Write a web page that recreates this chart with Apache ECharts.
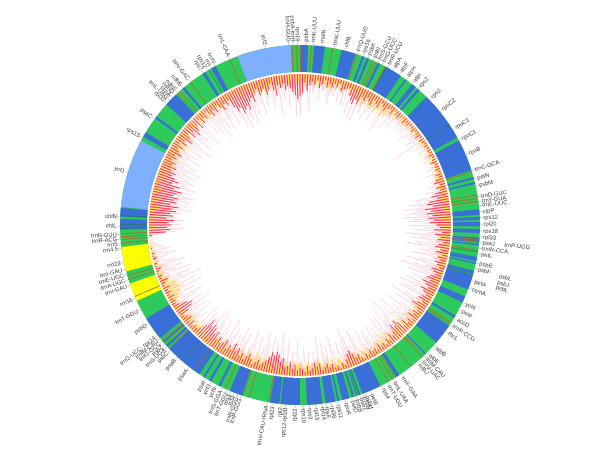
<!DOCTYPE html>
<html><head><meta charset="utf-8">
<script src="https://cdn.jsdelivr.net/npm/echarts@6/dist/echarts.min.js"></script>
<style>html,body{margin:0;background:#fff}#c{width:600px;height:450px}</style></head>
<body><div id="c"></div>
<script>
// gene blocks, degrees clockwise from the top
const codingGenes=[[0,2.6],[4.5,8],[13.4,18],[20.2,21],[21.8,22.6],[25.6,26.4],[28.5,34],[35.8,36.3],[38.5,40],[40.8,41.6],[44.6,60.9],[62,72.3],[74.5,75.2],[76.2,76.8],[85,86.8],[87.4,88.4],[89,90.4],[91.3,92.6],[94,95.6],[96,96.5],[100.2,101.6],[102,102.5],[104.8,105.8],[106.2,111],[113.4,115.5],[120.2,121],[124,130.8],[135.6,136],[146.5,147.6],[153.4,159.7],[160.4,160.8],[161.4,161.8],[162.4,162.8],[164,166.4],[167.4,168],[168.6,171.8],[172.8,177.8],[180,186.2],[186.6,189.6],[198.8,203],[206.2,207],[209.6,210.4],[212,212.6],[214,226.6],[227.4,228.2],[229.2,229.8],[231,238.7],[268.5,272],[272.6,275.5],[299.4,301],[306.4,307.2],[312,316.5],[319.2,320],[327.2,328.2],[330.4,332]];
const repeatGenes=[[275.8,298],[339.7,357]];
const rrnaGenes=[[245,251],[255,263]];
const trnaLines=[-2.6,-1,0.2,3.6,10.5,18.5,24,25,28.2,72.8,80.4,81.5,82.5,94.6,95.2,98,122.8,123.4,136.8,137.4,142,148,149,150.6,190,196.5,198.5,204.5,216,227,229,230.2,246.6,252.4,253.6,264.2,265.4,266.2,267.2,317,318,322.4,337];
const darkLines=[28.6,56,106,98.6,221,329.6,268.9,273,270.2,161,163];

// label positions (degrees) and names
const labelAngles=[-3.6,-2.2,-0.8,1.9,4.2,7,11,14.6,18.5,20.4,22.2,24,25.6,27.2,29,31,33.5,36,38.5,41,46,51,58,62,67,72.5,75.2,77.5,81,82.5,83.8,85.8,87.7,89.7,91.9,93.8,95.6,97.4,99.2,102.2,104,108,110.5,115.5,118,121,123.4,126,132,135,136.5,138,139.5,146,149,151,153,157,158.6,159.4,160.6,162,163.4,165.5,168,170,171.6,173,175,177,179,181.5,184.5,186,188.5,190.5,199,200.2,201.4,202.6,203.8,205.5,207.5,209.5,211.5,218,222.8,226,227.4,228.6,229.8,231,232.2,236.9,242,246,250.5,252.3,254,255.7,258,262.5,264,265.5,267,269.7,272.6,287,299,306,312.5,313.7,314.9,316.1,317.3,319.5,322.5,327.5,329,330.5,332,337,349];
const labelNames=["trnH-GUG","psbA-trnH","rps19","psbA","trnK-UUU","matK","trnK-UUU","chlB","trnQ-UUG","rps16","psbK","psbI","trnS-GCU","trnG-UCC","trnR-UCU","atpA","atpF","atpH","atpI","rps2","rps2","rpoC2","rpoC1","rpoC1","rpoB","trnC-GCA","petN","psbM","trnD-GUC","trnY-GUA","trnE-UUC","clpP","rps12","rpl20","rps18","rpl33","psaJ","trnW-CCA","petL","psbE","psbF","petA","cemA","ycf4","psaI","accD","trnR-CCG","rbcL","atpB","atpE","trnM-CAU","trnV-UAC","ndhJ","trnF-GAA","trnL-UAA","trnT-UGU","rps4","petB","psbH","psbN","psbT","psbB","petD","rpoA","rps11","rpl36","rps8","rpl14","rpl16","rps3","rps19","rpl22","rps12-rpl20","rpl2","rpl23","trnV-CAU-rRNA","trnP-GGG","trnR-GGG","ycf3","rps4","trnT-GGU","trnS-GGA","ycf9","ycf3","psaI","psaA","psaB","psbC","trnS-UGA","psbZ","trnG-GCC","trnfM-CAU","trnG-UCC, rps14","psbD","trnT-GGU","rrn16","trnI-GAU","trnA-UGC","trnE-UGC","trnI-GAU","rrn23","rrn4.5","rrn5","trnR-ACG","trnN-GUU","chlL","chlN","ycf1","rps15","psaC","rpl32","trnL-UAG","ccsA","ndhD","ndhE","ndhB","trnV-GAC","rps7","rps12","rrn","trnN","trnL-CAA","ycf2"];
const extraLabelAngles=[95.6,104.4,106.2,107.6];
const extraLabelNames=["trnP-UGG","psbL","psbJ","psbL"];

const pinkSpikes=[
34,18,12,22,30,16,9,14,20,11,7,18,24,13,15,8,19,10,22,14,12,26,17,28,11,30,16,21,13,25,
18,12,24,9,15,20,28,14,10,22,13,17,11,8,14,10,15,12,9,18,13,8,11,16,10,30,9,12,8,11,
7,10,9,12,8,6,9,11,7,14,10,8,12,9,16,11,18,13,28,20,34,26,38,30,36,28,40,32,36,24,
34,22,30,18,38,26,32,20,28,36,16,24,18,30,12,22,34,15,26,36,19,30,12,24,16,28,20,32,14,26,
30,12,22,34,16,28,10,20,32,14,26,18,36,22,30,16,38,24,20,34,14,28,18,30,12,22,16,26,10,18,
24,14,28,16,10,22,30,12,18,26,34,20,14,24,10,18,30,12,22,16,26,9,32,14,20,11,18,10,24,13,
16,28,12,20,10,30,14,22,36,18,26,12,30,16,24,34,20,14,28,10,22,32,16,12,26,18,30,14,22,10,
26,16,32,12,20,28,14,24,30,18,34,22,12,26,16,30,10,20,14,28,12,24,18,32,16,26,10,22,30,14,
24,12,34,18,28,14,36,20,26,10,30,16,22,12,26,18,8,14,20,10,16,12,6,4,3,5,8,22,28,18,
26,20,30,24,18,28,22,34,26,30,24,32,28,36,26,30,22,34,28,24,32,26,20,30,24,34,18,28,22,16,
30,18,24,12,28,16,22,34,20,14,30,18,26,12,22,32,16,10,24,14,28,20,34,18,26,12,30,22,16,28,
14,24,32,18,36,26,30,16,34,22,28,14,20,30,10,24,18,12,26,20,8,34,16,22,10,28,14,20,36,24];
const orangeSpikes=[
8,10,12,7,9,11,6,10,8,12,7,9,11,8,10,6,9,12,8,7,10,9,13,11,14,10,15,12,9,11,
13,9,12,10,8,14,11,7,10,9,6,8,7,9,5,8,6,7,4,6,5,7,4,6,5,3,6,4,5,3,
5,4,6,3,5,4,6,3,5,4,7,5,8,6,7,5,8,6,9,11,10,12,14,11,13,15,12,14,10,13,
12,9,11,13,10,8,12,9,11,7,10,12,8,11,9,7,10,8,12,9,7,10,13,9,11,8,12,10,8,11,
9,12,8,11,13,9,7,11,9,12,8,10,13,11,9,14,12,10,13,11,8,12,9,11,7,10,8,11,6,9,
7,10,6,9,5,8,11,9,13,10,12,8,6,9,5,8,10,7,9,11,8,6,12,9,11,8,10,7,9,11,
10,7,11,9,8,12,9,14,11,13,15,12,14,10,11,8,10,12,9,7,11,13,9,8,12,9,11,10,13,8,
11,9,13,10,8,12,9,14,11,12,14,13,15,11,8,6,9,7,10,6,9,8,5,9,12,13,11,7,5,8,
9,12,7,13,10,12,6,8,9,5,7,4,6,8,3,5,2,4,2,3,1,2,1,0,0,1,3,10,13,11,
14,12,15,11,14,13,16,12,15,11,14,13,16,12,14,15,11,14,10,13,11,9,12,8,13,9,11,7,10,12,
11,9,12,7,11,8,10,13,9,8,12,10,13,9,7,11,6,9,8,10,6,9,11,7,10,8,9,12,7,10,
8,11,13,10,15,12,14,11,13,10,12,9,8,11,9,10,12,9,7,10,11,8,10,7,11,9,10,12,9,11];
const redSpikes=[
16,14,6,12,8,5,7,4,9,6,3,8,5,7,4,6,3,8,6,5,4,9,12,14,10,13,6,8,5,7,
9,4,6,8,3,5,7,4,3,6,2,4,5,3,2,5,3,4,2,3,4,2,3,5,2,4,3,2,3,2,
3,2,4,2,3,5,2,3,4,2,5,3,6,8,4,7,5,9,12,8,14,16,12,18,14,17,13,16,12,15,
10,8,12,6,11,7,9,5,8,10,6,9,4,7,5,8,6,4,9,7,5,8,10,7,12,9,6,11,8,5,
7,9,5,8,11,6,4,7,5,9,3,6,4,8,5,10,13,9,12,7,5,8,4,6,3,5,4,7,3,5,
4,6,3,5,2,4,7,5,9,12,10,6,3,5,2,4,3,6,4,7,5,3,8,6,9,5,4,7,3,5,
6,4,8,5,10,7,6,12,9,14,16,13,15,11,8,6,4,7,5,3,6,9,7,4,8,5,10,7,12,6,
9,5,11,8,6,10,7,12,9,13,15,12,17,10,6,4,5,3,6,4,7,5,3,8,12,14,10,5,3,4,
3,5,2,4,3,5,2,3,6,2,3,1,2,4,1,2,0,3,1,2,0,1,0,0,0,0,2,12,15,13,
16,14,18,12,17,15,19,16,20,14,18,16,19,15,17,20,14,18,12,16,13,10,12,8,11,7,9,5,8,6,
10,7,5,8,4,9,6,11,8,5,10,7,12,9,6,10,4,8,5,7,3,6,9,5,8,4,7,10,6,8,
5,12,16,14,19,17,15,18,13,10,14,8,6,11,9,7,12,8,5,10,14,7,9,6,11,8,10,13,15,18];
const yellowSpikes=[
3,6,9,4,7,8,10,6,8,5,9,7,10,6,8,5,9,6,4,7,8,5,10,6,12,8,14,11,9,13,
12,10,14,8,11,13,9,12,7,10,6,9,7,5,8,6,7,4,6,5,7,4,6,3,5,7,4,6,3,5,
4,6,3,5,7,4,6,3,5,8,6,9,7,5,8,6,4,7,5,8,6,4,7,5,8,9,6,10,7,5,
8,6,9,5,7,10,6,8,4,7,9,5,8,6,4,7,5,8,4,6,3,7,5,8,4,6,9,5,7,4,
6,8,5,10,7,9,6,11,8,5,12,9,7,13,10,15,11,8,12,6,9,7,13,10,14,8,11,7,9,6,
8,5,10,7,12,9,6,11,8,5,7,10,6,9,12,8,11,7,13,9,6,10,14,8,11,7,12,9,6,10,
11,8,13,9,6,10,7,5,8,4,6,9,7,10,12,8,11,7,14,10,8,12,7,9,13,8,6,10,7,9,
7,10,6,8,11,7,9,5,8,6,4,7,5,9,11,8,6,10,7,12,8,9,6,7,4,6,8,5,7,9,
11,14,13,15,12,14,10,6,8,4,7,5,3,6,3,4,2,3,2,3,1,2,1,1,0,1,1,2,3,5,
4,6,3,5,7,4,6,8,5,3,7,4,6,5,8,4,6,3,7,5,9,6,10,8,12,9,7,11,8,10,
7,11,9,13,8,10,6,9,12,7,5,9,6,8,4,7,10,6,8,5,11,7,4,9,6,8,10,7,5,9,
8,5,7,4,6,9,5,7,4,8,10,6,9,12,8,10,7,11,9,6,8,5,10,7,4,8,6,3,5,7];

const R_OUT=180,R_IN=153,R_SPIKE=151,R_LABEL=183.5;
const norm=a=>(a+360)%360;

function blocks(list,color,z){
  return {type:'custom',coordinateSystem:'polar',silent:true,animation:false,z:z,
    data:list,
    renderItem:(p,api)=>{
      const s=api.value(0),e=api.value(1),pts=[];
      for(let t=s;t<e;t+=0.5)pts.push(api.coord([R_OUT,t]));
      pts.push(api.coord([R_OUT,e]));
      for(let t=e;t>s;t-=0.5)pts.push(api.coord([R_IN,t]));
      pts.push(api.coord([R_IN,s]));
      return {type:'polygon',shape:{points:pts},style:{fill:color}};
    }};
}
function ticks(list,color,w,z,r0,r1){
  return {type:'custom',coordinateSystem:'polar',silent:true,animation:false,z:z,
    data:list.map(a=>[norm(a)]),
    renderItem:(p,api)=>{
      const a=api.coord([r1,api.value(0)]),b=api.coord([r0,api.value(0)]);
      return {type:'line',shape:{x1:a[0],y1:a[1],x2:b[0],y2:b[1]},style:{stroke:color,lineWidth:w}};
    }};
}
function spikes(values,offset,color,w,z,k){
  return {type:'custom',coordinateSystem:'polar',silent:true,animation:false,z:z,
    data:values.map((v,i)=>[i+offset,v]),
    renderItem:(p,api)=>{
      const t=api.value(0),v=api.value(1);
      if(!v)return null;
      const a=api.coord([R_SPIKE,t]),b=api.coord([R_SPIKE-v*k,t]);
      return {type:'line',shape:{x1:a[0],y1:a[1],x2:b[0],y2:b[1]},style:{stroke:color,lineWidth:w}};
    }};
}
function labels(angles,names,gap){
  return {type:'custom',coordinateSystem:'polar',silent:true,animation:false,z:6,
    data:angles.map(a=>[norm(a)]),
    renderItem:(p,api)=>{
      const t=api.value(0),name=names[p.dataIndex];
      const left=t>180;
      const pos=api.coord([R_LABEL+gap,t]);
      const rot=(left?270-t:90-t)*Math.PI/180;
      return {type:'text',x:pos[0],y:pos[1],rotation:rot,
        style:{text:name,x:0,y:0,align:left?'right':'left',verticalAlign:'middle',
          fill:'#3d3d3d',font:'5.8px "Liberation Sans",Arial,sans-serif'}};
    }};
}
const chart=echarts.init(document.getElementById('c'),null,{renderer:'canvas'});
chart.setOption({
  animation:false,
  polar:{center:[300,225],radius:R_OUT},
  angleAxis:{type:'value',min:0,max:360,startAngle:90,clockwise:true,show:false},
  radiusAxis:{type:'value',min:0,max:R_OUT,show:false},
  series:[
    spikes(pinkSpikes,0.25,'rgba(255,140,165,0.55)',0.7,2,1.2),
    spikes(orangeSpikes,0.75,'rgba(255,120,110,0.6)',0.9,2,1.2),
    spikes(yellowSpikes,0.5,'#ffe63a',0.95,3,1.2),
    spikes(redSpikes,0,'rgba(250,30,50,0.92)',1,4,1.4),
    blocks([[0,359.99]],'#2fca5c',2),
    blocks(codingGenes,'#3a6fd8',3),
    blocks(repeatGenes,'#7fafff',3),
    blocks(rrnaGenes,'#ffff00',3),
    ticks(trnaLines,'#a8701e',0.9,4,R_IN,R_OUT),
    ticks(darkLines,'#2a7a4a',0.7,4,R_IN,R_OUT),
    ticks(labelAngles,'#999',0.5,4,R_OUT,R_LABEL),
    labels(labelAngles,labelNames,0),
    labels(extraLabelAngles,extraLabelNames,22)
  ]
});
</script></body></html>
